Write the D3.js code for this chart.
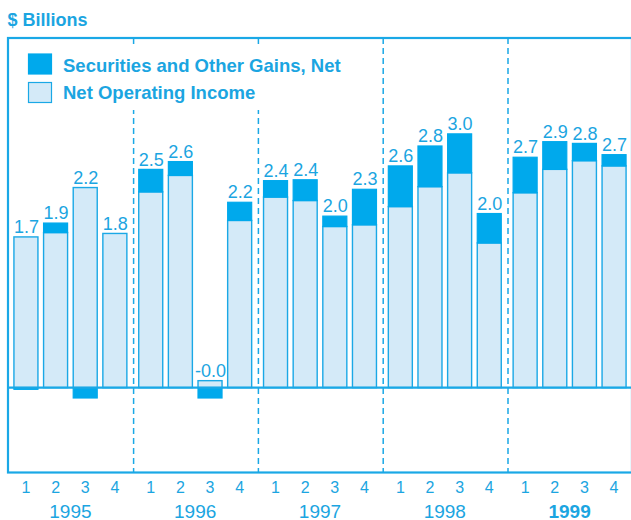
<!DOCTYPE html>
<html>
<head>
<meta charset="utf-8">
<script src="https://cdn.jsdelivr.net/npm/d3@7"></script>
<style>
  body { margin: 0; background: #fff; }
  svg { display: block; font-family: "Liberation Sans", Arial, sans-serif; }
</style>
</head>
<body>
<svg id="chart"></svg>
<script>
// year groups and quarters
const years = ["1995", "1996", "1997", "1998", "1999"];
const quarters = ["1", "2", "3", "4"];
// $ billions
const netOperating = [1.74, 1.79, 2.31, 1.78, 2.26, 2.45, 0.08, 1.93,
    2.20, 2.16, 1.86, 1.88, 2.09, 2.32, 2.48, 1.67, 2.25, 2.52, 2.62, 2.56];
const securitiesGains = [-0.02, 0.11, -0.12, 0.00, 0.26, 0.16, -0.12, 0.21,
    0.19, 0.24, 0.12, 0.41, 0.47, 0.47, 0.45, 0.34, 0.41, 0.32, 0.20, 0.13];
const totalLabels = ["1.7", "1.9", "2.2", "1.8", "2.5", "2.6", "-0.0", "2.2",
    "2.4", "2.4", "2.0", "2.3", "2.6", "2.8", "3.0", "2.0", "2.7", "2.9", "2.8", "2.7"];
const legendItems = ["Securities and Other Gains, Net", "Net Operating Income"];

const width = 631, height = 520;
const dark = "#00a9ec", light = "#d4eaf8", line = "#1aa8e6", ink = "#1ba5e1";
const frame = {left: 8, right: 632, top: 38, bottom: 472.5};

const svg = d3.select("#chart").attr("width", width).attr("height", height);

let data = [];
years.forEach(function (yr, i) {
    quarters.forEach(function (q, j) {
        let k = i * 4 + j;
        data.push({year: yr, q: q, noi: netOperating[k], gain: securitiesGains[k], label: totalLabels[k]});
    });
});

const x0 = d3.scaleBand().domain(years).range([frame.left, frame.right]);
const x1 = d3.scaleBand().domain(quarters).range([0, x0.bandwidth()])
    .paddingInner(0.19).paddingOuter(0.2);
const y = d3.scaleLinear().domain([-1, 4]).range([474.2, 41.2]);

const xPos = d => x0(d.year) + x1(d.q);

// frame
svg.append("rect")
    .attr("x", frame.left).attr("y", frame.top)
    .attr("width", frame.right - frame.left).attr("height", frame.bottom - frame.top)
    .attr("fill", "none").attr("stroke", line).attr("stroke-width", 2.2);

// dashed year dividers
svg.append("g").selectAll("line")
    .data(years.slice(1))
    .join("line")
    .attr("x1", d => x0(d) + 0.8).attr("x2", d => x0(d) + 0.8)
    .attr("y1", frame.top).attr("y2", frame.bottom)
    .attr("stroke", line).attr("stroke-width", 1.5)
    .attr("stroke-dasharray", "6,4");

// legend (white box hides the dividers)
const lg = svg.append("g");
lg.append("rect").attr("x", 20).attr("y", 44).attr("width", 335).attr("height", 66).attr("fill", "#fff");
lg.selectAll("rect.key")
    .data(legendItems)
    .join("rect").attr("class", "key")
    .attr("x", 28.5).attr("y", (d, i) => 54 + i * 28.5)
    .attr("width", 23).attr("height", 20)
    .attr("fill", (d, i) => i === 0 ? dark : light)
    .attr("stroke", (d, i) => i === 0 ? dark : line)
    .attr("stroke-width", 1.2);
lg.selectAll("text")
    .data(legendItems)
    .join("text")
    .attr("x", 63).attr("y", (d, i) => 71.8 + i * 27.6)
    .attr("fill", ink).attr("font-weight", "bold").attr("font-size", 18.5)
    .text(d => d);

// bars
const bars = svg.append("g");
bars.selectAll("rect.noi")
    .data(data)
    .join("rect").attr("class", "noi")
    .attr("x", xPos).attr("width", x1.bandwidth())
    .attr("y", d => y(d.noi)).attr("height", d => y(0) - y(d.noi))
    .attr("fill", light).attr("stroke", line).attr("stroke-width", 1.4);
bars.selectAll("rect.gain")
    .data(data.filter(d => d.gain !== 0))
    .join("rect").attr("class", "gain")
    .attr("x", xPos).attr("width", x1.bandwidth())
    .attr("y", d => d.gain > 0 ? y(d.noi + d.gain) : y(0))
    .attr("height", d => d.gain > 0 ? y(d.noi) - y(d.noi + d.gain) : y(d.gain) - y(0))
    .attr("fill", dark).attr("stroke", dark).attr("stroke-width", 1.2);

// zero line
svg.append("line")
    .attr("x1", frame.left).attr("x2", frame.right)
    .attr("y1", y(0)).attr("y2", y(0))
    .attr("stroke", line).attr("stroke-width", 2.2);

// value labels
svg.append("g").selectAll("text")
    .data(data)
    .join("text")
    .attr("x", d => xPos(d) + x1.bandwidth() / 2 + 0.5)
    .attr("y", d => y(d.noi + Math.max(d.gain, 0)) - 3.8)
    .attr("text-anchor", "middle")
    .attr("fill", ink).attr("font-size", 18)
    .text(d => d.label);

// title
svg.append("text")
    .attr("x", 7.5).attr("y", 26)
    .attr("fill", ink).attr("font-weight", "bold").attr("font-size", 18)
    .text("$ Billions");

// quarter and year labels
svg.append("g").selectAll("text")
    .data(data)
    .join("text")
    .attr("x", d => xPos(d) + x1.bandwidth() / 2)
    .attr("y", 492.7)
    .attr("text-anchor", "middle")
    .attr("fill", ink).attr("font-size", 16)
    .text(d => d.q);
svg.append("g").selectAll("text")
    .data(years)
    .join("text")
    .attr("x", d => x0(d) + x0.bandwidth() / 2)
    .attr("y", 517.5)
    .attr("text-anchor", "middle")
    .attr("fill", ink).attr("font-size", 19)
    .attr("font-weight", d => d === "1999" ? "bold" : "normal")
    .text(d => d);
</script>
</body>
</html>
